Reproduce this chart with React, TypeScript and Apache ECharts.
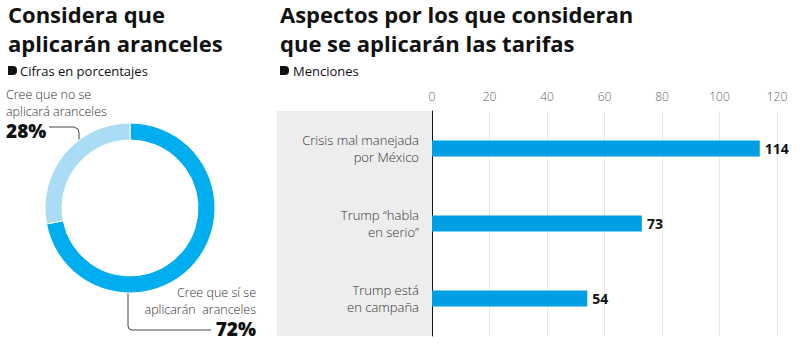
import React, { useEffect, useRef } from "react";
import * as echarts from "echarts";

const donutNames = ["Cree que sí se aplicarán aranceles", "Cree que no se aplicará aranceles"];
const donutValues = [72, 28];
const donutColors = ["#00aeef", "#aadcf5"];

const barCategories = ["Crisis mal manejada\npor México", "Trump “habla\nen serio”", "Trump está\nen campaña"];
const barValues = [114, 73, 54];
const xTicks = [0, 20, 40, 60, 80, 100, 120];

const FONT = "'Open Sans', sans-serif";

export default function App() {
  const ref = useRef<HTMLDivElement>(null);
  useEffect(() => {
    document.body.style.margin = "0";
    const chart = echarts.init(ref.current!, null, { renderer: "svg" });
    const titleStyle = { fill: "#111", font: `bold 22px ${FONT}` };
    const subStyle = { fill: "#111", font: `13px ${FONT}` };
    const lblStyle = { fill: "#333", font: `300 12.5px ${FONT}`, lineHeight: 17 };
    const pctStyle = { fill: "#111", font: `800 19px ${FONT}` };
    chart.setOption({
      animation: false,
      graphic: [
        { type: "rect", z: -1, shape: { x: 277, y: 111, width: 155, height: 225 }, style: { fill: "#ededed" } },
        { type: "text", x: 8, y: 14, style: { ...titleStyle, text: "Considera que", verticalAlign: "middle" } },
        { type: "text", x: 8, y: 43, style: { ...titleStyle, text: "aplicarán aranceles", verticalAlign: "middle" } },
        { type: "rect", shape: { x: 8, y: 66, width: 9, height: 9, r: [0, 4, 4, 0] }, style: { fill: "#111" } },
        { type: "text", x: 20, y: 71, style: { ...subStyle, text: "Cifras en porcentajes", verticalAlign: "middle" } },
        { type: "text", x: 280, y: 14, style: { ...titleStyle, text: "Aspectos por los que consideran", verticalAlign: "middle" } },
        { type: "text", x: 280, y: 43, style: { ...titleStyle, text: "que se aplicarán las tarifas", verticalAlign: "middle" } },
        { type: "rect", shape: { x: 280, y: 66, width: 9, height: 9, r: [0, 4, 4, 0] }, style: { fill: "#111" } },
        { type: "text", x: 293, y: 71, style: { ...subStyle, text: "Menciones", verticalAlign: "middle" } },
        { type: "text", x: 6, y: 102.5, style: { ...lblStyle, text: "Cree que no se\naplicará aranceles", verticalAlign: "middle" } },
        { type: "text", x: 6, y: 131, style: { ...pctStyle, text: donutValues[1] + "%", verticalAlign: "middle" } },
        { type: "polyline", shape: { points: [[49, 127], [74, 127], [78, 129], [79, 133], [79, 151]] }, style: { stroke: "#444", lineWidth: 1, fill: null } },
        { type: "circle", shape: { cx: 79, cy: 151, r: 1.8 }, style: { fill: "#111" } },
        { type: "text", x: 256, y: 300.5, style: { ...lblStyle, text: "Cree que sí se\naplicarán  aranceles", align: "right", verticalAlign: "middle" } },
        { type: "text", x: 256, y: 329, style: { ...pctStyle, text: donutValues[0] + "%", align: "right", verticalAlign: "middle" } },
        { type: "polyline", shape: { points: [[128, 287], [128, 326], [129, 329], [132, 330], [211, 330]] }, style: { stroke: "#444", lineWidth: 1, fill: null } },
        { type: "circle", shape: { cx: 128, cy: 287, r: 1.8 }, style: { fill: "#111" } },
      ],
      grid: { left: 432, right: 23, top: 111, height: 225 },
      xAxis: {
        type: "value",
        position: "top",
        min: xTicks[0],
        max: xTicks[xTicks.length - 1],
        interval: 20,
        axisLine: { show: false },
        axisTick: { show: false },
        axisLabel: { color: "#666", fontSize: 12, fontFamily: FONT, fontWeight: 300, margin: 9 },
        splitLine: { lineStyle: { color: "#e6e6e6", width: 1 } },
      },
      yAxis: {
        type: "category",
        data: barCategories,
        inverse: true,
        axisLine: { show: true, lineStyle: { color: "#111", width: 1 } },
        axisTick: { show: false },
        axisLabel: { color: "#333", fontSize: 13, fontFamily: FONT, fontWeight: 300, margin: 13, lineHeight: 17, align: "right" },
      },
      series: [
        {
          type: "pie",
          center: [130, 208],
          radius: [68, 85],
          startAngle: 90,
          label: { show: false },
          labelLine: { show: false },
          itemStyle: { borderColor: "#fff", borderWidth: 1 },
          data: donutNames.map((n, i) => ({ name: n, value: donutValues[i], itemStyle: { color: donutColors[i] } })),
        },
        {
          type: "bar",
          data: barValues,
          barWidth: 16,
          itemStyle: { color: "#009fe3" },
          label: { show: true, position: "right", distance: 5, color: "#111", fontSize: 14, fontWeight: "bold", fontFamily: FONT },
        },
      ],
    });
    return () => chart.dispose();
  }, []);
  return <div ref={ref} style={{ width: 800, height: 343 }} />;
}
